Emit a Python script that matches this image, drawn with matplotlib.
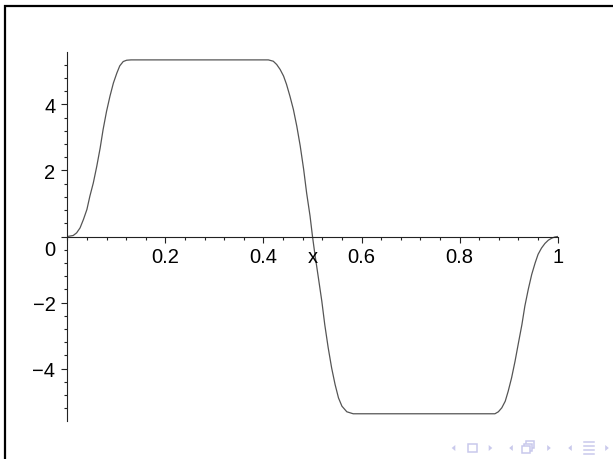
import matplotlib
matplotlib.use('Agg')
import matplotlib.pyplot as plt
from matplotlib.ticker import MultipleLocator, FixedLocator
from matplotlib.transforms import ScaledTranslation
from matplotlib.patches import Rectangle, Polygon
from matplotlib.lines import Line2D

plt.rcParams['font.family'] = ['Liberation Sans', 'DejaVu Sans']

# curve samples read along the plotted function
x_vals = [0.000, 0.012, 0.019, 0.026, 0.033, 0.040, 0.046, 0.053, 0.060, 0.067,
          0.073, 0.080, 0.087, 0.094, 0.101, 0.107, 0.114, 0.121, 0.130,
          0.410, 0.420, 0.427, 0.434, 0.441, 0.447, 0.454, 0.461, 0.468, 0.475,
          0.482, 0.488, 0.495, 0.500, 0.505, 0.512, 0.519, 0.525, 0.532, 0.539,
          0.546, 0.553, 0.560, 0.570, 0.583,
          0.872, 0.879, 0.886, 0.893, 0.899, 0.906, 0.913, 0.920, 0.927, 0.933,
          0.940, 0.947, 0.954, 0.960, 0.967, 0.974, 0.981, 0.988, 0.994, 1.000]
y_vals = [0.00, 0.03, 0.11, 0.26, 0.52, 0.82, 1.22, 1.62, 2.12, 2.68,
          3.24, 3.79, 4.25, 4.65, 4.95, 5.17, 5.30, 5.34, 5.35,
          5.35, 5.31, 5.21, 5.06, 4.86, 4.61, 4.25, 3.85, 3.34, 2.74,
          2.03, 1.32, 0.62, 0.00, -0.55, -1.25, -1.96, -2.67, -3.37, -3.98,
          -4.48, -4.89, -5.14, -5.31, -5.37,
          -5.37, -5.31, -5.19, -4.99, -4.69, -4.28, -3.78, -3.22, -2.67, -2.11,
          -1.60, -1.15, -0.80, -0.54, -0.35, -0.21, -0.11, -0.05, -0.015, 0.00]

x_ticks = [0.2, 0.4, 0.6, 0.8, 1.0]
x_ticklabels = ['0.2', '0.4', '0.6', '0.8', '1']
y_ticks = [-4, -2, 0, 2, 4]
y_ticklabels = ['\u22124', '\u22122', '0', '2', '4']

W, H = 613, 460
fig = plt.figure(figsize=(W / 100, H / 100), dpi=100)

# slide frame, open to the right and bottom
fig.add_artist(Rectangle((5 / W, -0.1), 1.2, (H - 7) / H + 0.1,
                         transform=fig.transFigure, fill=False,
                         edgecolor='black', linewidth=1.6))

ax = fig.add_axes([67.3 / W, (H - 421.7) / H, 490.4 / W, 368.4 / H])
ax.set_xlim(0, 1)
ax.set_ylim(-5.58, 5.58)
ax.patch.set_visible(False)

ax.plot(x_vals, y_vals, color='#555555', linewidth=0.9)

for side in ('top', 'right'):
    ax.spines[side].set_visible(False)
ax.spines['bottom'].set_position(('data', 0))
ax.spines['left'].set_position(('data', 0))
for side in ('bottom', 'left'):
    ax.spines[side].set_color('#222222')
    ax.spines[side].set_linewidth(0.8)

ax.xaxis.set_major_locator(FixedLocator(x_ticks))
ax.set_xticklabels(x_ticklabels)
ax.xaxis.set_minor_locator(MultipleLocator(0.04))
ax.yaxis.set_major_locator(FixedLocator(y_ticks))
ax.set_yticklabels(y_ticklabels)
ax.yaxis.set_minor_locator(MultipleLocator(0.4))

ax.tick_params(axis='both', which='both', direction='out', color='#222222', width=0.8)
ax.tick_params(axis='both', which='major', length=4.5, labelsize=14.5)
ax.tick_params(axis='both', which='minor', length=2.5)
ax.tick_params(axis='x', which='major', pad=3)
ax.tick_params(axis='y', which='major', pad=4)

# the origin label sits a little below the axis
zero_label = ax.get_yticklabels()[2]
zero_label.set_transform(zero_label.get_transform() +
                         ScaledTranslation(0, -0.11, fig.dpi_scale_trans))

ax.annotate('x', xy=(0.5, 0), xytext=(0, -7.5), textcoords='offset points',
            ha='center', va='top', fontsize=14.5)

# navigation symbols in the lower right corner
nav = '#c9c9ec'
def px(x, y):
    return (x / W, (H - y) / H)

def tri(cx, cy, left):
    d = -1 if left else 1
    pts = [px(cx - 1.8 * d, cy - 3), px(cx - 1.8 * d, cy + 3), px(cx + 1.8 * d, cy)]
    fig.add_artist(Polygon(pts, closed=True, transform=fig.transFigure,
                           facecolor=nav, edgecolor='none'))

def box(x0, y0, w, h):
    fig.add_artist(Rectangle(px(x0, y0 + h), w / W, h / H, transform=fig.transFigure,
                             facecolor='white', edgecolor=nav, linewidth=1.1))

for cx, left in [(453.5, True), (490.5, False), (511, True), (549, False),
                 (570, True), (607, False)]:
    tri(cx, 449, left)

box(468, 445, 9, 8)
box(526, 442, 8, 7)
box(524, 444.5, 8, 7)
box(522, 447, 8, 7)
for yy in (443, 447, 451, 455):
    fig.add_artist(Line2D([584 / W, 594 / W], [(H - yy) / H] * 2,
                          transform=fig.transFigure, color=nav, linewidth=1.1))

fig.savefig('out.png', dpi=100)
